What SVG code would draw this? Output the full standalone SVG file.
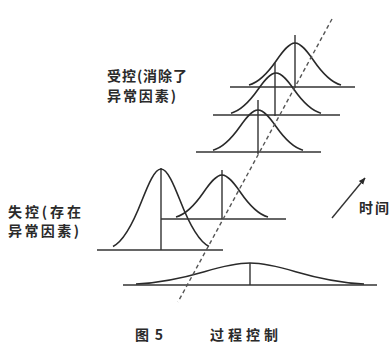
<svg xmlns="http://www.w3.org/2000/svg" xmlns:xlink="http://www.w3.org/1999/xlink" width="390" height="344" viewBox="0 0 390 344">
<style>
.bell{fill:none;stroke:#2a2a2a;stroke-width:1.6;vector-effect:non-scaling-stroke;stroke-linejoin:round}
.ln{stroke:#333;stroke-width:1.4;fill:none}
.dash{stroke:#555;stroke-width:1.4;stroke-dasharray:4 3;fill:none}
.t{font-family:"Noto Sans CJK SC","Noto Sans",sans-serif;font-size:14px;font-weight:bold;fill:#2a2a2a}
</style>
<defs>
<path id="bell" class="bell" d="M-1,-0.044 C-0.8,-0.099 -0.6,-0.303 -0.4,-0.607 C-0.267,-0.809 -0.133,-1 0,-1 C0.133,-1 0.267,-0.809 0.4,-0.607 C0.6,-0.303 0.8,-0.099 1,-0.044"/>
<marker id="ah" viewBox="0 0 10 10" refX="9" refY="5" markerWidth="7" markerHeight="7" orient="auto" markerUnits="userSpaceOnUse">
<path d="M0,1 L10,5 L0,9 z" fill="#2a2a2a"/>
</marker>
</defs>
<rect width="390" height="344" fill="#fff"/>

<g id="curve-a">
<line class="ln" x1="230" y1="87" x2="355" y2="87"/>
<line class="ln" x1="295" y1="35" x2="295" y2="88"/>
<use xlink:href="#bell" transform="translate(295,87) scale(46,44)"/>
</g>
<g id="curve-b">
<line class="ln" x1="213" y1="115" x2="340" y2="115"/>
<line class="ln" x1="275" y1="63" x2="275" y2="116"/>
<use xlink:href="#bell" transform="translate(276,115) scale(45,42)"/>
</g>
<g id="curve-c">
<line class="ln" x1="196" y1="152" x2="321" y2="152"/>
<line class="ln" x1="258" y1="100" x2="258" y2="154"/>
<use xlink:href="#bell" transform="translate(258,152) scale(45,42)"/>
</g>
<g id="curve-d">
<line class="ln" x1="97" y1="250" x2="223" y2="250"/>
<line class="ln" x1="161" y1="168" x2="161" y2="250"/>
<use xlink:href="#bell" transform="translate(161,250) scale(48,81)"/>
</g>
<g id="curve-e">
<line class="ln" x1="161" y1="219" x2="286" y2="219"/>
<line class="ln" x1="222" y1="170" x2="222" y2="219"/>
<use xlink:href="#bell" transform="translate(222,219) scale(46,44)"/>
</g>
<g id="curve-f">
<line class="ln" x1="123" y1="285" x2="377" y2="285"/>
<line class="ln" x1="250" y1="263" x2="250" y2="285"/>
<use xlink:href="#bell" transform="translate(250,285) scale(114,22)"/>
</g>

<g id="connectors">
<line class="dash" x1="332" y1="19" x2="178" y2="302"/>
<line class="ln" x1="332" y1="218" x2="365" y2="178" marker-end="url(#ah)"/>
</g>

<g id="labels">
<text class="t" x="107" y="81" textLength="80" lengthAdjust="spacing">受控(消除了</text>
<text class="t" x="107" y="101" textLength="69" lengthAdjust="spacing">异常因素)</text>
<text class="t" x="8" y="217" textLength="73" lengthAdjust="spacing">失控(存在</text>
<text class="t" x="8" y="236" textLength="71" lengthAdjust="spacing">异常因素)</text>
<text class="t" x="359" y="213" textLength="30" lengthAdjust="spacing">时间</text>
<text class="t" x="135" y="340" textLength="28" lengthAdjust="spacing">图 5</text>
<text class="t" x="210" y="340" textLength="68" lengthAdjust="spacing">过程控制</text>
</g>
</svg>
